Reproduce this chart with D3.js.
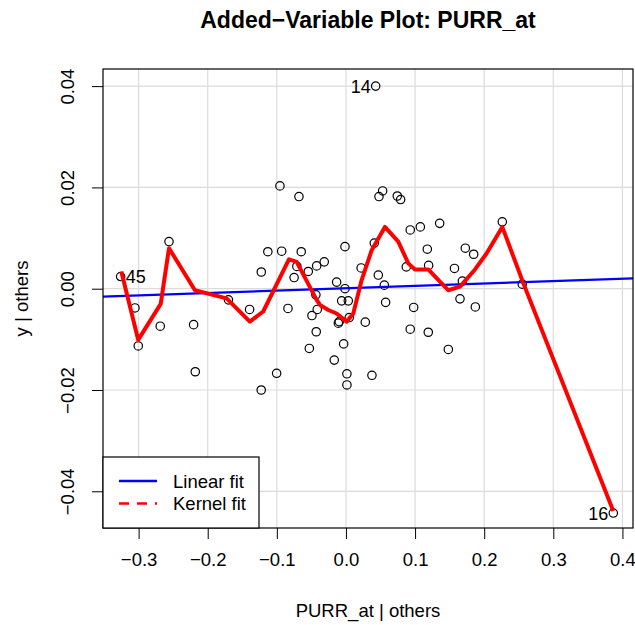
<!DOCTYPE html>
<html>
<head>
<meta charset="utf-8">
<script src="https://cdn.jsdelivr.net/npm/d3@7"></script>
<style>
  body { margin: 0; background: #fff; }
  svg text { font-family: "Liberation Sans", Arial, Helvetica, sans-serif; fill: #000; }
</style>
</head>
<body>
<svg id="chart" width="635" height="625"></svg>
<script>
// Added-variable residuals (x = PURR_at | others, y = y | others)
const pointX = [
    0.043, -0.0955, -0.068, -0.256, -0.326, -0.113, -0.093, -0.0647, -0.1225, -0.075,
    -0.071, -0.0545, -0.0424, -0.0314, -0.0014, -0.0135, -0.0014, 0.022, -0.0435, -0.170,
    -0.0062, 0.0034, 0.0478, 0.0531, 0.0743, 0.0791, 0.093, 0.1076, 0.1356, 0.2262,
    0.041, 0.1177, 0.1727, 0.1848, 0.0873, 0.1196, 0.157, 0.0468, 0.0555, 0.1684,
    0.2551, 0.165, 0.0574, 0.098, 0.1872, 0.028, 0.093, 0.1191, 0.1481, 0.0376,
    0.3868, -0.3053, -0.2687, -0.3005, -0.2204, -0.218, -0.1394, -0.0839, -0.1226, -0.1003,
    -0.0415, -0.0492, -0.043, -0.053, -0.0169, -0.011, -0.0097, 0.0048, -0.0033, 0.0014,
    0.0014
];
const pointY = [
    0.0400, 0.0203, 0.0182, 0.0093, 0.0024, 0.0073, 0.0074, 0.0073, 0.0033, 0.0022,
    0.0044, 0.0034, 0.0045, 0.0053, 0.0083, 0.0013, 0.0000, 0.0041, -0.0012, -0.0022,
    -0.0024, -0.0024, 0.0182, 0.0193, 0.0183, 0.0176, 0.0116, 0.0122, 0.0129, 0.0132,
    0.0090, 0.0078, 0.0080, 0.0068, 0.0043, 0.0046, 0.0040, 0.0027, 0.0007, 0.0015,
    0.0009, -0.0020, -0.0027, -0.0037, -0.0036, -0.0066, -0.0080, -0.0086, -0.0120, -0.0171,
    -0.0443, -0.0038, -0.0074, -0.0113, -0.0071, -0.0164, -0.0041, -0.0039, -0.0200, -0.0167,
    -0.0041, -0.0053, -0.0085, -0.0118, -0.0141, -0.0068, -0.0065, -0.0057, -0.0109, -0.0168,
    -0.0190
];

// labelled observations: index into the point arrays, label, side
const labelIndex = [0, 4, 50];
const labelText = ["14", "45", "16"];
const labelSide = ["left", "right", "left"];

// kernel (nonparametric) fit, traced
const kernelX = [
    -0.325, -0.3006, -0.268, -0.256, -0.2185, -0.1727, -0.139, -0.1197, -0.0825, -0.0713,
    -0.0424, -0.0376, -0.0256, -0.0135, 0.001, 0.0106, 0.0227, 0.0372, 0.0564, 0.0757,
    0.0902, 0.0999, 0.1191, 0.136, 0.148, 0.165, 0.1867, 0.2036, 0.2262, 0.2566, 0.3868
];
const kernelY = [
    0.0034, -0.0101, -0.0030, 0.0080, -0.0003, -0.0019, -0.0065, -0.0045, 0.0058, 0.0053,
    -0.0022, -0.0032, -0.0042, -0.0049, -0.0065, -0.0049, 0.0017, 0.0076, 0.0122, 0.0093,
    0.0050, 0.0038, 0.0038, 0.0014, -0.0003, 0.0004, 0.0038, 0.0070, 0.0122, 0.0011, -0.0439
];

// linear fit
const linIntercept = 0.0001;
const linSlope = 0.0047;

const xTicks = [-0.3, -0.2, -0.1, 0.0, 0.1, 0.2, 0.3, 0.4];
const yTicks = [-0.04, -0.02, 0.00, 0.02, 0.04];

const legendLabels = ["Linear fit", "Kernel fit"];
const legendColors = ["#0000ff", "#ff0000"];

const W = 635, H = 625;
const margin = { top: 69, right: 2, bottom: 97, left: 103 };
const innerW = W - margin.left - margin.right;
const innerH = H - margin.top - margin.bottom;

const svg = d3.select('#chart');
const g = svg.append('g').attr('transform', `translate(${margin.left},${margin.top})`);

const x = d3.scaleLinear().domain([-0.3515, 0.4153]).range([0, innerW]);
const y = d3.scaleLinear().domain([-0.04725, 0.04338]).range([innerH, 0]);

// clip for everything drawn inside the box
svg.append('defs').append('clipPath').attr('id', 'plotClip')
    .append('rect').attr('width', innerW).attr('height', innerH);

// grid
const grid = g.append('g').attr('clip-path', 'url(#plotClip)');
grid.selectAll('line.vx').data(xTicks).join('line')
    .attr('x1', d => x(d)).attr('x2', d => x(d))
    .attr('y1', 0).attr('y2', innerH)
    .attr('stroke', '#dcdcdc').attr('stroke-width', 1.2);
grid.selectAll('line.hy').data(yTicks).join('line')
    .attr('y1', d => y(d)).attr('y2', d => y(d))
    .attr('x1', 0).attr('x2', innerW)
    .attr('stroke', '#dcdcdc').attr('stroke-width', 1.2);

const plot = g.append('g').attr('clip-path', 'url(#plotClip)');

// points
const points = pointX.map((px, i) => ({ x: px, y: pointY[i] }));
plot.selectAll('circle').data(points).join('circle')
    .attr('cx', d => x(d.x)).attr('cy', d => y(d.y))
    .attr('r', 4.2)
    .attr('fill', 'none').attr('stroke', '#000').attr('stroke-width', 1.2);

// linear fit
const xd = x.domain();
plot.append('line')
    .attr('x1', x(xd[0])).attr('y1', y(linIntercept + linSlope * xd[0]))
    .attr('x2', x(xd[1])).attr('y2', y(linIntercept + linSlope * xd[1]))
    .attr('stroke', legendColors[0]).attr('stroke-width', 2.2);

// kernel fit
const kernel = kernelX.map((kx, i) => [kx, kernelY[i]]);
plot.append('path')
    .datum(kernel)
    .attr('d', d3.line().x(d => x(d[0])).y(d => y(d[1])))
    .attr('fill', 'none').attr('stroke', legendColors[1])
    .attr('stroke-width', 4).attr('stroke-linejoin', 'round');

// point labels
labelIndex.forEach((idx, k) => {
    const left = labelSide[k] === 'left';
    g.append('text')
        .attr('x', x(pointX[idx]) + (left ? -5 : 5))
        .attr('y', y(pointY[idx]))
        .attr('dy', '0.36em')
        .attr('text-anchor', left ? 'end' : 'start')
        .style('font-size', '18px')
        .text(labelText[k]);
});

// axes
const xAxis = g.append('g').attr('transform', `translate(0,${innerH})`)
    .call(d3.axisBottom(x).tickValues(xTicks).tickFormat(d3.format('.1f')).tickSize(11).tickPadding(8));
xAxis.select('.domain').remove();
xAxis.selectAll('text').style('font-size', '18.5px').attr('dy', '1.05em');

const yAxis = g.append('g')
    .call(d3.axisLeft(y).tickValues(yTicks).tickFormat(d3.format('.2f')).tickSize(11));
yAxis.select('.domain').remove();
yAxis.selectAll('text')
    .attr('transform', 'rotate(-90)')
    .attr('x', 0).attr('y', -35).attr('dy', '0.35em')
    .attr('text-anchor', 'middle')
    .style('font-size', '18.5px');

// box
g.append('rect').attr('width', innerW).attr('height', innerH)
    .attr('fill', 'none').attr('stroke', '#000').attr('stroke-width', 1.2);

// legend (bottom left)
const legW = 156, legH = 71;
const leg = g.append('g').attr('transform', `translate(0,${innerH - legH})`);
leg.append('rect').attr('width', legW).attr('height', legH)
    .attr('fill', '#fff').attr('stroke', '#000').attr('stroke-width', 1.2);
legendLabels.forEach((lab, i) => {
    const ly = 24 + i * 22.5;
    leg.append('line')
        .attr('x1', 16).attr('x2', 54).attr('y1', ly).attr('y2', ly)
        .attr('stroke', legendColors[i]).attr('stroke-width', 2.5)
        .attr('stroke-dasharray', i === 1 ? '10,8' : null);
    leg.append('text')
        .attr('x', 70).attr('y', ly).attr('dy', '0.36em')
        .style('font-size', '18.5px')
        .text(lab);
});

// titles
svg.append('text')
    .attr('x', margin.left + innerW / 2).attr('y', 28)
    .attr('text-anchor', 'middle')
    .style('font-size', '23px').style('font-weight', 'bold')
    .text('Added\u2212Variable Plot: PURR_at');

svg.append('text')
    .attr('x', margin.left + innerW / 2).attr('y', 617)
    .attr('text-anchor', 'middle')
    .style('font-size', '18.5px')
    .text('PURR_at | others');

svg.append('text')
    .attr('transform', `translate(28,${margin.top + innerH / 2}) rotate(-90)`)
    .attr('text-anchor', 'middle')
    .style('font-size', '18.5px')
    .text('y  | others');
</script>
</body>
</html>
